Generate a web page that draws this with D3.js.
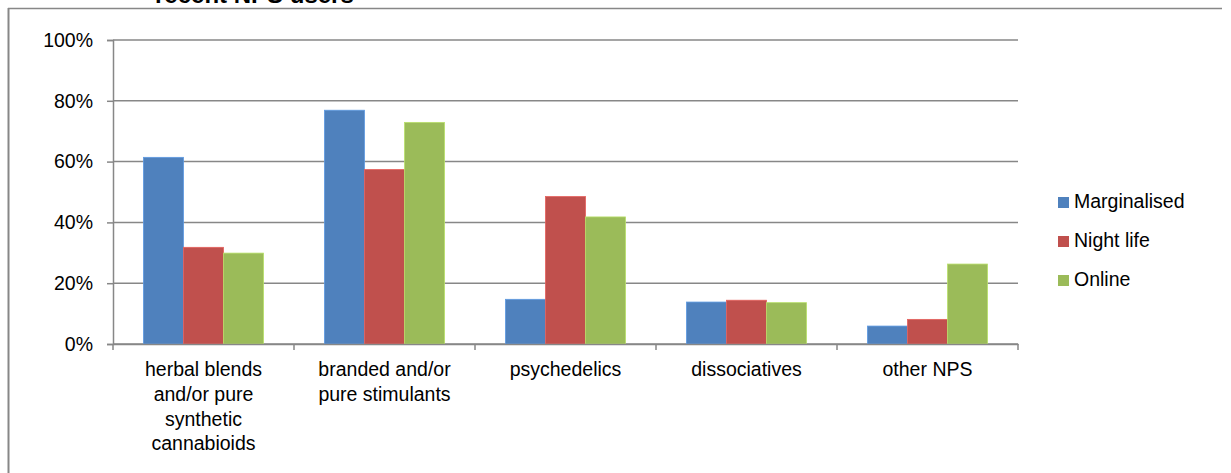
<!DOCTYPE html>
<html>
<head>
<meta charset="utf-8">
<script src="https://cdn.jsdelivr.net/npm/d3@7"></script>
<style>
  body { margin: 0; background: #fff; }
  svg { display: block; font-family: "Liberation Sans", Arial, sans-serif; }
</style>
</head>
<body>
<script>
const categories = ['herbal', 'branded', 'psychedelics', 'dissociatives', 'other']
const categoryLabels = [
  ['herbal blends', 'and/or pure', 'synthetic', 'cannabioids'],
  ['branded and/or', 'pure stimulants'],
  ['psychedelics'],
  ['dissociatives'],
  ['other NPS']
]
const series = ['Marginalised', 'Night life', 'Online']
const colors = ['#4F81BD', '#C0504D', '#9BBB59']
const marginalised = [0.614, 0.769, 0.147, 0.138, 0.059]
const nightLife = [0.318, 0.574, 0.485, 0.144, 0.081]
const online = [0.299, 0.729, 0.418, 0.136, 0.263]
const yTicks = [0, 0.2, 0.4, 0.6, 0.8, 1]
const title = 'recent NPS users'

const values = [marginalised, nightLife, online]

const width = 1231
const height = 473
const plotLeft = 113
const plotRight = 1018
const plotTop = 40
const plotBottom = 344
const gray = '#878787'

const svg = d3.select('body')
  .append('svg')
  .attr('width', width)
  .attr('height', height)

// frame pieces that are left of the chart area
svg.append('line')
  .attr('x1', 8.5).attr('x2', 8.5)
  .attr('y1', 8).attr('y2', height)
  .attr('stroke', gray).attr('stroke-width', 2)
svg.append('line')
  .attr('x1', 8).attr('x2', 1222)
  .attr('y1', 8.5).attr('y2', 8.5)
  .attr('stroke', gray).attr('stroke-width', 1.5)

// title is mostly cut off by the top of the picture
svg.append('text')
  .attr('x', 155)
  .attr('y', 3)
  .attr('font-size', 24)
  .attr('font-weight', 'bold')
  .attr('fill', '#000')
  .text(title)

const x0 = d3.scaleBand()
  .domain(categories)
  .range([plotLeft, plotRight])

const x1 = d3.scaleBand()
  .domain(series)
  .range([0, x0.bandwidth()])
  .paddingOuter(0.76)

const y = d3.scaleLinear()
  .domain([0, 1])
  .range([plotBottom, plotTop])

// gridlines
svg.append('g')
  .selectAll('line')
  .data(yTicks)
  .enter()
  .append('line')
  .attr('x1', plotLeft)
  .attr('x2', plotRight)
  .attr('y1', d => y(d))
  .attr('y2', d => y(d))
  .attr('stroke', gray)
  .attr('stroke-width', 1.5)

// bars
const groups = svg.append('g')
  .selectAll('g')
  .data(categories)
  .enter()
  .append('g')
  .attr('transform', d => `translate(${x0(d)},0)`)

groups.selectAll('rect')
  .data((d, i) => series.map((s, j) => ({ s, j, v: values[j][i] })))
  .enter()
  .append('rect')
  .attr('x', d => x1(d.s))
  .attr('width', x1.bandwidth())
  .attr('y', d => y(d.v))
  .attr('height', d => plotBottom - y(d.v))
  .attr('fill', d => colors[d.j])
  .attr('stroke', d => d3.color(colors[d.j]).brighter(0.5))
  .attr('stroke-width', 0.8)

// y axis
const yAxis = svg.append('g')
  .attr('transform', `translate(${plotLeft},0)`)
  .call(d3.axisLeft(y).tickValues(yTicks).tickFormat(d3.format('.0%')).tickSize(6).tickPadding(14))
yAxis.select('.domain').attr('stroke', gray).attr('stroke-width', 1.5)
yAxis.selectAll('.tick line').attr('stroke', gray).attr('stroke-width', 1.5)
yAxis.selectAll('.tick text')
  .attr('font-size', 19.5)
  .attr('font-family', '"Liberation Sans", Arial, sans-serif')
  .attr('fill', '#000')

// x axis
const xAxis = svg.append('g')
  .attr('transform', `translate(0,${plotBottom})`)
  .call(d3.axisBottom(x0).tickValues([]).tickSizeOuter(0))
xAxis.select('.domain').attr('stroke', gray).attr('stroke-width', 1.5)

svg.append('g')
  .selectAll('line')
  .data(d3.range(categories.length + 1))
  .enter()
  .append('line')
  .attr('x1', i => plotLeft + i * x0.step())
  .attr('x2', i => plotLeft + i * x0.step())
  .attr('y1', plotBottom)
  .attr('y2', plotBottom + 6)
  .attr('stroke', gray)
  .attr('stroke-width', 1.5)

// category labels
const labels = svg.append('g')
  .selectAll('text')
  .data(categories)
  .enter()
  .append('text')
  .attr('text-anchor', 'middle')
  .attr('font-size', 19.5)
  .attr('fill', '#000')

labels.selectAll('tspan')
  .data((d, i) => categoryLabels[i].map(t => ({ t, c: d })))
  .enter()
  .append('tspan')
  .attr('x', d => x0(d.c) + x0.bandwidth() / 2)
  .attr('y', (d, i) => 376 + i * 24.8)
  .text(d => d.t)

// legend
const legend = svg.append('g')
  .selectAll('g')
  .data(series)
  .enter()
  .append('g')
  .attr('transform', (d, i) => `translate(1058,${197 + i * 39})`)

legend.append('rect')
  .attr('width', 11)
  .attr('height', 11)
  .attr('fill', (d, i) => colors[i])

legend.append('text')
  .attr('x', 16)
  .attr('y', 11)
  .attr('font-size', 19.5)
  .attr('fill', '#000')
  .text(d => d)
</script>
</body>
</html>
